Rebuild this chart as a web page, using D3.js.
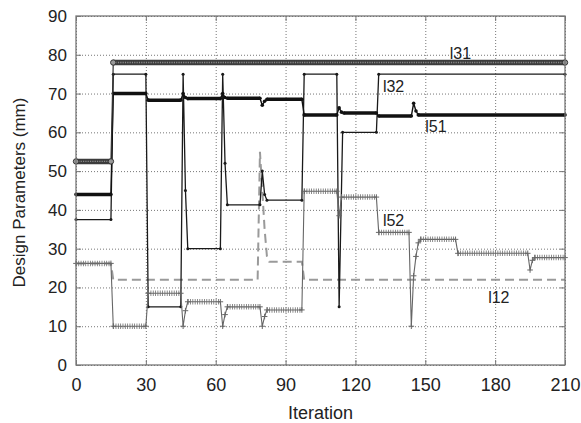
<!DOCTYPE html>
<html>
<head>
<meta charset="utf-8">
<title>Design Parameters vs Iteration</title>
<script src="https://d3js.org/d3.v7.min.js"></script>
<style>
    body { margin: 0; background: #fff; }
    svg { display: block; font-family: "Liberation Sans", Arial, Helvetica, sans-serif; }
    .grid line { stroke: #777; stroke-width: 1; stroke-dasharray: 1,2; }
    .grid path { display: none; }
    .ticks line { stroke: #777; }
    .ticks path { display: none; }
    .labels path, .labels line { display: none; }
    .labels text { fill: #222; }
    .series-label { font-size: 16px; fill: #222; }
</style>
</head>
<body>
<svg width="581" height="423"></svg>

<script>
    const iterTicks = [0, 30, 60, 90, 120, 150, 180, 210];
    const valueTicks = [0, 10, 20, 30, 40, 50, 60, 70, 80, 90];

    // [iteration, value] at each point where a series changes (values hold in between)
    const l31 = [[0, 52.5], [15, 52.5], [16, 78], [210, 78]];
    const l32 = [[0, 37.5], [15, 37.5], [16, 75], [30, 75], [31, 15], [45, 15], [46, 75], [47, 45],
                 [48, 30], [62, 30], [63, 75], [64, 52], [65, 41.3], [79, 41.3], [80, 50], [81, 44],
                 [82, 42.5], [97, 42.5], [98, 75], [112, 75], [113, 15], [114.5, 60], [129, 60],
                 [130, 75], [210, 75]];
    const l51 = [[0, 44], [15, 44], [16, 70], [30, 70], [31, 68.3], [45, 68.3], [46, 70], [47, 69],
                 [48, 68.7], [62, 68.7], [63, 70], [64, 69], [65, 68.8], [79, 68.8], [80, 67], [81, 68],
                 [82, 68.5], [97, 68.5], [98, 64.5], [112, 64.5], [113, 66.3], [114, 65.2], [115, 65],
                 [129, 65], [130, 64.2], [144, 64.2], [145, 67.5], [146, 65.5], [147, 64.5], [210, 64.5]];
    const l52 = [[0, 26.2], [15, 26.2], [16, 10], [30, 10], [31, 18.5], [45, 18.5], [46, 10], [47, 14],
                 [48, 16.3], [62, 16.3], [63, 10], [64, 13], [65, 15], [79, 15], [80, 10], [81, 12.5],
                 [82, 14.2], [97, 14.2], [98, 44.8], [112, 44.8], [113, 38.5], [114, 43.3], [129, 43.3],
                 [130, 34.2], [143, 34.2], [144, 10], [145, 23], [146, 28], [147, 31.5], [148, 32.4],
                 [163, 32.4], [164, 28.8], [194, 28.8], [195, 24.5], [196, 27], [197, 27.7], [210, 27.7]];
    const l12 = [[0, 26.2], [15, 26.2], [16, 22], [78, 22], [79, 55], [80, 45], [81, 35], [82, 28],
                 [83, 26.6], [97, 26.6], [98, 22], [210, 22]];

    // where the name of each curve is written, in data units
    const labelAt = { l31: [160.5, 79], l32: [131.8, 70.5], l51: [150, 60.2], l52: [131.8, 35.8], l12: [177, 16] };

    const svg = d3.select("svg");
    const width = +svg.attr("width");
    const height = +svg.attr("height");
    const margin = { top: 16, right: 16, bottom: 58, left: 76 };

    const x = d3.scaleLinear().domain([0, 210]).range([margin.left, width - margin.right]);
    const y = d3.scaleLinear().domain([0, 90]).range([height - margin.bottom, margin.top]);
    const plotW = x(210) - x(0);
    const plotH = y(0) - y(90);
    const step = x(1) - x(0);

    const line = d3.line().x(d => x(d[0])).y(d => y(d[1]));

    // runs where the value holds: markers sit at every iteration there, so they merge into a band
    const holds = data => d3.pairs(data).filter(([a, b]) => a[1] === b[1]);

    function drawSeries(data, opt) {
        const g = svg.append("g");
        g.append("path").datum(data)
            .attr("d", line).attr("fill", "none")
            .attr("stroke", opt.color).attr("stroke-width", opt.thin)
            .attr("stroke-linejoin", "round");
        g.selectAll("path.band").data(holds(data)).enter().append("path")
            .attr("class", "band")
            .attr("d", line).attr("fill", "none")
            .attr("stroke", opt.bandColor).attr("stroke-width", opt.band)
            .attr("stroke-dasharray", opt.dash || null);
        if (opt.inner) {
            g.selectAll("path.inner").data(holds(data)).enter().append("path")
                .attr("class", "inner")
                .attr("d", line).attr("fill", "none")
                .attr("stroke", opt.inner).attr("stroke-width", 1.4)
                .attr("stroke-dasharray", `1.2,${step - 1.2}`);
        }
        return g;
    }

    // dotted grid
    svg.append("g").attr("class", "grid")
        .attr("transform", `translate(0,${y(0)})`)
        .call(d3.axisBottom(x).tickValues(iterTicks).tickSize(-plotH).tickFormat(""));
    svg.append("g").attr("class", "grid")
        .attr("transform", `translate(${x(0)},0)`)
        .call(d3.axisLeft(y).tickValues(valueTicks).tickSize(-plotW).tickFormat(""));

    // l12: dashed gray
    svg.append("path").datum(l12)
        .attr("d", line).attr("fill", "none")
        .attr("stroke", "#9a9a9a").attr("stroke-width", 2)
        .attr("stroke-dasharray", "9,5");

    // l32: thin black with small dots
    svg.append("path").datum(l32)
        .attr("d", line).attr("fill", "none")
        .attr("stroke", "#1a1a1a").attr("stroke-width", 1.3)
        .attr("stroke-linejoin", "round");
    svg.append("g").selectAll("circle").data(l32).enter().append("circle")
        .attr("cx", d => x(d[0])).attr("cy", d => y(d[1]))
        .attr("r", 1.5).attr("fill", "#1a1a1a");

    // l52: gray with plus markers
    drawSeries(l52, { color: "#666", thin: 1.1, bandColor: "#6e6e6e", band: 5.5, dash: `0.8,${step - 0.8}` })
        .selectAll("path.plus").data(l52).enter().append("path")
        .attr("class", "plus")
        .attr("transform", d => `translate(${x(d[0])},${y(d[1])})`)
        .attr("d", "M-2.8,0H2.8M0,-2.8V2.8")
        .attr("stroke", "#666").attr("stroke-width", 1);

    // l51: thick black dotted
    drawSeries(l51, { color: "#111", thin: 1.4, bandColor: "#111", band: 3.5 })
        .selectAll("circle").data(l51).enter().append("circle")
        .attr("cx", d => x(d[0])).attr("cy", d => y(d[1]))
        .attr("r", 1.8).attr("fill", "#111");

    // l31: circle markers packed into a band
    drawSeries(l31, { color: "#333", thin: 1.2, bandColor: "#3c3c3c", band: 5.5, inner: "#8a8a8a" })
        .selectAll("circle").data(l31).enter().append("circle")
        .attr("cx", d => x(d[0])).attr("cy", d => y(d[1]))
        .attr("r", 2.7).attr("fill", "#999").attr("stroke", "#333").attr("stroke-width", 1);

    // curve names
    svg.append("g").selectAll("text")
        .data(Object.keys(labelAt))
        .enter().append("text")
        .attr("class", "series-label")
        .attr("x", d => x(labelAt[d][0]))
        .attr("y", d => y(labelAt[d][1]))
        .text(d => d);

    // frame and inner ticks
    svg.append("rect")
        .attr("x", x(0)).attr("y", y(90))
        .attr("width", plotW).attr("height", plotH)
        .attr("fill", "none").attr("stroke", "#777").attr("stroke-width", 1.3);
    svg.append("g").attr("class", "ticks").attr("transform", `translate(0,${y(0)})`)
        .call(d3.axisBottom(x).tickValues(iterTicks).tickSize(-5).tickFormat(""));
    svg.append("g").attr("class", "ticks").attr("transform", `translate(0,${y(90)})`)
        .call(d3.axisTop(x).tickValues(iterTicks).tickSize(-5).tickFormat(""));
    svg.append("g").attr("class", "ticks").attr("transform", `translate(${x(0)},0)`)
        .call(d3.axisLeft(y).tickValues(valueTicks).tickSize(-5).tickFormat(""));
    svg.append("g").attr("class", "ticks").attr("transform", `translate(${x(210)},0)`)
        .call(d3.axisRight(y).tickValues(valueTicks).tickSize(-5).tickFormat(""));

    // tick labels
    svg.append("g").attr("class", "labels")
        .attr("transform", `translate(0,${y(0)})`)
        .call(d3.axisBottom(x).tickValues(iterTicks).tickSize(0).tickPadding(13))
        .selectAll("text").style("font-size", "18px");
    svg.append("g").attr("class", "labels")
        .attr("transform", `translate(${x(0)},0)`)
        .call(d3.axisLeft(y).tickValues(valueTicks).tickSize(0).tickPadding(9))
        .selectAll("text").style("font-size", "17px");

    // axis titles
    svg.append("text")
        .attr("x", (x(0) + x(210)) / 2).attr("y", 419)
        .attr("text-anchor", "middle")
        .style("font-size", "18px").attr("fill", "#222")
        .text("Iteration");
    svg.append("text")
        .attr("transform", `translate(25,${(y(0) + y(90)) / 2 + 2}) rotate(-90)`)
        .attr("text-anchor", "middle")
        .style("font-size", "17px").attr("fill", "#222")
        .text("Design Parameters (mm)");
</script>
</body>
</html>
